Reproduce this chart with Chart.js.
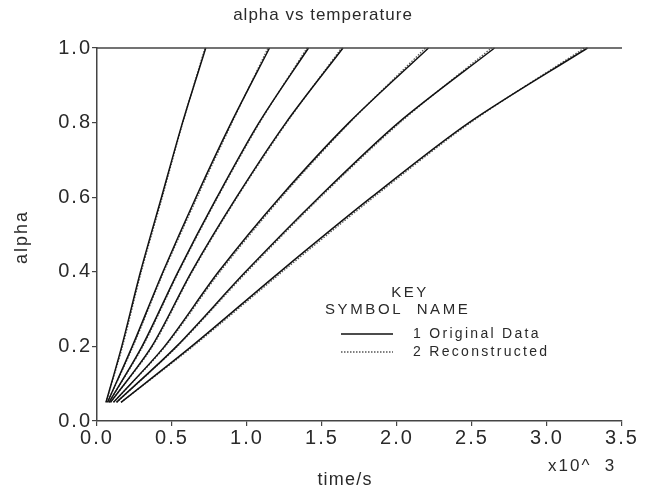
<!DOCTYPE html>
<html>
<head>
<meta charset="utf-8">
<script src="https://cdn.jsdelivr.net/npm/chart.js@4.4.1/dist/chart.umd.min.js"></script>
<style>
  html, body { margin: 0; padding: 0; background: #fff; }
  #wrap { width: 647px; height: 488px; position: relative; }
</style>
</head>
<body>
<div id="wrap"><canvas id="c" width="647" height="488"></canvas></div>
<script>
// ---- data ----
const alphaLevels = [0.05, 0.2, 0.4, 0.6, 0.8, 1.0];

// original data: time (x10^3 s) at which each curve reaches alphaLevels
const orig1 = [0.06, 0.165, 0.29, 0.43, 0.57, 0.725];
const orig2 = [0.07, 0.235, 0.44, 0.66, 0.895, 1.15];
const orig3 = [0.08, 0.30, 0.54, 0.80, 1.08, 1.41];
const orig4 = [0.09, 0.365, 0.63, 0.93, 1.26, 1.64];
const orig5 = [0.11, 0.45, 0.81, 1.22, 1.68, 2.21];
const orig6 = [0.13, 0.53, 0.99, 1.48, 2.01, 2.65];
const orig7 = [0.16, 0.63, 1.22, 1.83, 2.48, 3.27];

// reconstructed
const recon1 = [0.06, 0.17, 0.295, 0.435, 0.572, 0.72];
const recon2 = [0.07, 0.24, 0.445, 0.668, 0.9, 1.14];
const recon3 = [0.08, 0.305, 0.545, 0.805, 1.085, 1.40];
const recon4 = [0.09, 0.37, 0.635, 0.935, 1.265, 1.63];
const recon5 = [0.11, 0.455, 0.82, 1.23, 1.685, 2.19];
const recon6 = [0.13, 0.535, 1.0, 1.49, 2.02, 2.63];
const recon7 = [0.16, 0.64, 1.235, 1.845, 2.49, 3.25];

const xTicks = [0, 0.5, 1.0, 1.5, 2.0, 2.5, 3.0, 3.5];
const yTicks = [0, 0.2, 0.4, 0.6, 0.8, 1.0];
const seriesNames = ['1 Original Data', '2 Reconstructed'];

const origSets = [orig1, orig2, orig3, orig4, orig5, orig6, orig7];
const reconSets = [recon1, recon2, recon3, recon4, recon5, recon6, recon7];

const FONT = "'Liberation Sans', Arial, sans-serif";
const TXT = '#2a2a2a';
const AX = '#444';

function pts(times) { return times.map((t, i) => ({ x: t, y: alphaLevels[i] })); }

const datasets = [];
origSets.forEach((s, i) => datasets.push({
  label: seriesNames[0] + ' ' + (i + 1), data: pts(s), showLine: true,
  borderColor: '#111', borderWidth: 1.5, pointRadius: 0, fill: false,
  tension: 0.3, clip: false
}));
reconSets.forEach((s, i) => datasets.push({
  label: seriesNames[1] + ' ' + (i + 1), data: pts(s), showLine: true,
  borderColor: '#555', borderWidth: 1.3, borderDash: [1.5, 1.5], pointRadius: 0, fill: false,
  tension: 0.3, clip: false
}));

function txt(ctx, s, x, y, size, ls, align, rot) {
  ctx.save();
  ctx.font = size + 'px ' + FONT;
  ctx.fillStyle = TXT;
  ctx.textBaseline = 'middle';
  ctx.textAlign = align || 'center';
  try { ctx.letterSpacing = ls + 'px'; } catch (e) {}
  ctx.translate(x, y);
  if (rot) ctx.rotate(rot);
  ctx.fillText(s, 0, 0);
  ctx.restore();
}

const decor = {
  id: 'decor',
  beforeDraw(chart) {
    try { chart.ctx.letterSpacing = '2px'; } catch (e) {}
  },
  afterDraw(chart) {
    const ctx = chart.ctx;
    const a = chart.chartArea;
    try { ctx.letterSpacing = '0px'; } catch (e) {}
    // top frame line
    ctx.save();
    ctx.strokeStyle = AX; ctx.lineWidth = 1.5;
    ctx.beginPath(); ctx.moveTo(a.left, a.top); ctx.lineTo(a.right, a.top); ctx.stroke();
    ctx.restore();
    // titles
    txt(ctx, 'alpha vs temperature', 323, 15, 17, 1, 'center');
    txt(ctx, 'alpha', 22, 237, 18, 2, 'center', -Math.PI / 2);
    txt(ctx, 'time/s', 345, 480, 18, 1.2, 'center');
    txt(ctx, 'x10^  3', 548, 466, 17, 2, 'left');
    // legend
    txt(ctx, 'KEY', 410, 293, 15, 2.5, 'center');
    txt(ctx, 'SYMBOL  NAME', 325, 310, 15, 2.6, 'left');
    ctx.save();
    ctx.strokeStyle = '#111'; ctx.lineWidth = 1.6;
    ctx.beginPath(); ctx.moveTo(341, 334); ctx.lineTo(393, 334); ctx.stroke();
    ctx.strokeStyle = '#555'; ctx.lineWidth = 1.4; ctx.setLineDash([1.5, 1.5]);
    ctx.beginPath(); ctx.moveTo(341, 352); ctx.lineTo(393, 352); ctx.stroke();
    ctx.restore();
    txt(ctx, seriesNames[0], 413, 334, 14, 2.3, 'left');
    txt(ctx, seriesNames[1], 413, 352, 14, 2.3, 'left');
  }
};

new Chart(document.getElementById('c'), {
  type: 'scatter',
  data: { datasets },
  plugins: [decor],
  options: {
    responsive: false,
    animation: false,
    devicePixelRatio: 1,
    layout: { padding: { top: 48, right: 25, left: 0, bottom: 0 } },
    plugins: { legend: { display: false }, title: { display: false }, tooltip: { enabled: false } },
    scales: {
      x: {
        type: 'linear', min: 0, max: 3.5,
        afterBuildTicks: s => { s.ticks = xTicks.map(v => ({ value: v })); },
        afterFit: s => { s.height = 67; },
        ticks: { callback: v => Number(v).toFixed(1), color: TXT, font: { family: FONT, size: 20 }, padding: 0, maxRotation: 0, autoSkip: false },
        grid: { drawOnChartArea: false, drawTicks: true, tickLength: 5, color: AX, lineWidth: 1.2 },
        border: { display: true, color: AX, width: 1.5 }
      },
      y: {
        type: 'linear', min: 0, max: 1,
        afterBuildTicks: s => { s.ticks = yTicks.map(v => ({ value: v })); },
        afterFit: s => { s.width = 97; },
        ticks: { callback: v => Number(v).toFixed(1), color: TXT, font: { family: FONT, size: 20 }, padding: 0, autoSkip: false },
        grid: { drawOnChartArea: false, drawTicks: true, tickLength: 5, color: AX, lineWidth: 1.2 },
        border: { display: true, color: AX, width: 1.5 }
      }
    }
  }
});
</script>
</body>
</html>
